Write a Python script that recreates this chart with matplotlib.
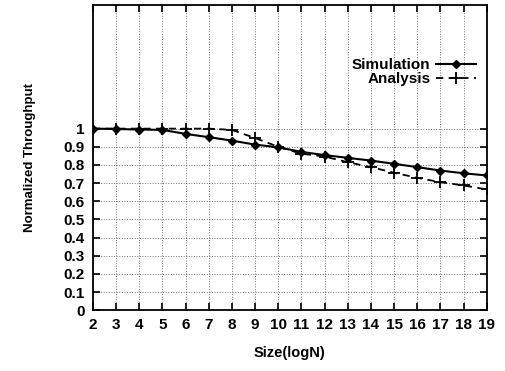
import matplotlib.pyplot as plt

plt.rcParams['font.family'] = ['Liberation Sans', 'DejaVu Sans']
plt.rcParams['font.weight'] = 'bold'

# valores
sizes = [2, 3, 4, 5, 6, 7, 8, 9, 10, 11, 12, 13, 14, 15, 16, 17, 18, 19]
simulation = [1.0, 0.998, 0.995, 0.993, 0.971, 0.953, 0.934, 0.912, 0.897,
              0.872, 0.854, 0.839, 0.824, 0.806, 0.788, 0.769, 0.754, 0.742]
analysis = [1.0, 1.0, 1.0, 1.0, 1.0, 1.0, 0.993, 0.948, 0.9,
            0.862, 0.846, 0.815, 0.788, 0.757, 0.729, 0.705, 0.687, 0.665]
yticks = [0, 0.1, 0.2, 0.3, 0.4, 0.5, 0.6, 0.7, 0.8, 0.9, 1]
yticklabels = ['0', '0.1', '0.2', '0.3', '0.4', '0.5', '0.6', '0.7', '0.8', '0.9', '1']

fig = plt.figure(figsize=(5.05, 3.71), dpi=100)
ax = fig.add_axes([0.184, 0.164, 0.780, 0.822])

ax.plot(sizes, simulation, '-', color='black', lw=1.5, marker='D', ms=4.5,
        mfc='black', mec='black', label='Simulation')
ax.plot(sizes, analysis, '--', color='black', lw=1.3, marker='+', ms=8,
        mew=1.3, label='Analysis', dashes=(4, 3))

ax.set_xlim(2, 19)
ax.set_ylim(0, 1.68)
ax.set_xticks(sizes)
ax.set_yticks(yticks)
ax.set_yticklabels(yticklabels)
ax.tick_params(direction='in', top=True, right=True, length=5, width=1.2,
               labelsize=11, pad=6)
for lbl in ax.get_xticklabels() + ax.get_yticklabels():
  lbl.set_fontweight('heavy')
ax.grid(True, linestyle=':', color='black', lw=0.7, alpha=0.55)
for s in ax.spines.values():
  s.set_linewidth(1.3)

ax.set_xlabel('Size(logN)', fontsize=10.5, fontweight='bold', labelpad=10)
ax.set_ylabel('Normalized Throughput', fontsize=9.5, fontweight='bold', labelpad=20)

leg = ax.legend(loc='upper right', bbox_to_anchor=(1.0, 0.862), frameon=False,
                markerfirst=False, fontsize=11, handlelength=2.6,
                labelspacing=0.0, borderaxespad=0.3, handletextpad=0.4)
for t in leg.get_texts():
  t.set_fontweight('bold')

fig.savefig('out.png', dpi=100)
